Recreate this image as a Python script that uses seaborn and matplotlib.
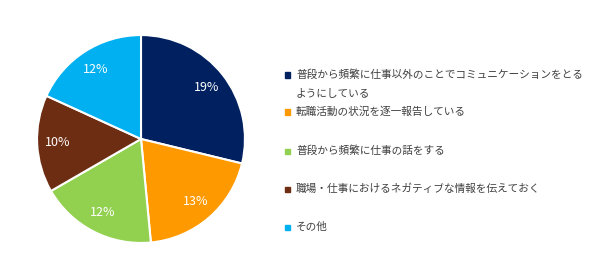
import matplotlib
matplotlib.use("Agg")
import matplotlib.pyplot as plt
import seaborn as sns

categories = [
    "普段から頻繁に仕事以外のことでコミュニケーションをとる\nようにしている",
    "転職活動の状況を逐一報告している",
    "普段から頻繁に仕事の話をする",
    "職場・仕事におけるネガティブな情報を伝えておく",
    "その他",
]
values = [19, 13, 12, 10, 12]
colors = ["#002060", "#FF9900", "#92D050", "#6D2D13", "#00B0F0"]

sns.set_theme(style="white")
plt.rcParams['font.family'] = ['Noto Sans CJK JP', 'DejaVu Sans']

W, H = 603, 277
fig = plt.figure(figsize=(W / 100, H / 100), dpi=100)
cx, cy, r = 141, 139, 105
ax = fig.add_axes([(cx - r) / W, (H - cy - r) / H, 2 * r / W, 2 * r / H])
palette = sns.color_palette(colors)
wedges, texts = ax.pie(
    values, colors=palette, startangle=90, counterclock=False,
    labels=[f"{v}%" for v in values], labeldistance=0.8,
    wedgeprops=dict(edgecolor="white", linewidth=1.5),
    textprops=dict(color="white", fontsize=9, ha="center", va="center"),
)
ax.set_xlim(-1.01, 1.01)
ax.set_ylim(-1.01, 1.01)
ax.axis("off")

rows_y = [75, 112, 151, 189, 227]
txt_color = "#404040"
for lab, col, y in zip(categories, palette, rows_y):
    fig.patches.append(plt.Rectangle((285 / W, (H - y - 2.5) / H), 5 / W, 5 / H,
                                     transform=fig.transFigure, color=col, figure=fig))
    lines = lab.split("\n")
    for i, line in enumerate(lines):
        fig.text(296 / W, (H - y - i * 18.5) / H, line, fontsize=7.7,
                 color=txt_color, ha="left", va="center")

fig.savefig("out.png", dpi=100, facecolor="white")
